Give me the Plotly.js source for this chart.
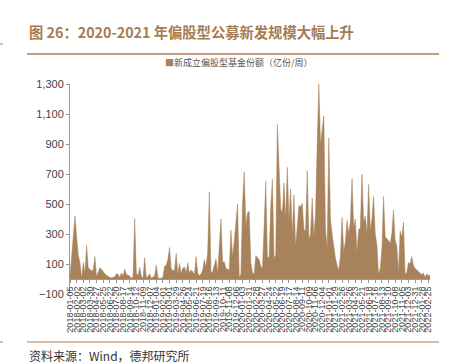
<!DOCTYPE html>
<html>
<head>
<meta charset="utf-8">
<script src="https://cdn.plot.ly/plotly-3.0.1.min.js"></script>
<style>html,body{margin:0;padding:0;background:#fff;}#chart{width:449px;height:363px;}</style>
</head>
<body>
<div id="chart"></div>
<script>
// Weekly new equity-biased fund shares (亿份/周), one value per week from 2018-01-05
const startDate = '2018-01-05';
const seriesName = '新成立偏股型基金份额（亿份/周）';
const weeklyShares = [
  20,150,330,420,280,160,110,5,110,40,
  225,75,65,55,60,150,15,40,75,65,
  45,35,25,15,10,8,10,15,35,30,
  10,40,20,65,30,25,20,5,15,405,
  40,20,78,15,5,142,10,15,35,5,
  10,20,93,10,3,5,10,85,90,130,
  210,65,60,55,170,30,104,35,71,80,
  40,109,35,60,50,25,149,40,20,35,
  60,130,80,180,582,40,50,90,133,40,
  200,400,110,115,70,65,60,327,150,250,
  400,500,15,30,500,715,350,442,450,110,
  40,35,155,145,130,85,70,350,650,150,
  140,480,665,140,160,1030,680,470,440,640,
  400,745,390,600,300,560,215,330,490,480,
  505,330,320,725,270,300,540,280,430,900,
  1300,900,1000,1090,330,200,940,400,300,200,
  140,90,60,150,410,180,250,390,300,380,
  670,340,400,180,330,340,700,380,420,300,
  630,330,400,550,300,230,30,70,200,550,
  280,270,250,240,300,460,260,220,50,320,
  280,380,30,45,110,100,150,90,70,60,
  50,45,30,40,10,35,20,30
];
const yTickVals = [-100,100,300,500,700,900,1100,1300];
const titleText = '图 26：2020-2021 年偏股型公募新发规模大幅上升';
const sourceText = '资料来源：Wind，德邦研究所';

// weekly category labels
const weeks = [];
(function(){
  const d0 = new Date(startDate + 'T00:00:00Z');
  for (let i = 0; i < weeklyShares.length; i++) {
    const d = new Date(d0.getTime() + i * 7 * 86400000);
    weeks.push(d.toISOString().slice(0,10));
  }
})();
const tickLabels = weeks.filter((w,i) => i % 4 === 0);

const fillColor = '#a8825a';
const brown = '#a57b52';

const trace = {
  x: weeks, y: weeklyShares, type: 'scatter', mode: 'lines',
  fill: 'tozeroy', fillcolor: fillColor,
  line: {color: fillColor, width: 0.5},
  name: seriesName, showlegend: false, hoverinfo: 'skip'
};

// plot area pixels: x 70..430, y 84..294
const L = 70, R = 430, T = 84, B = 294;
const px = v => (v - L) / (R - L);
const py = v => (B - v) / (B - T);

const layout = {
  width: 449, height: 363,
  margin: {l: L, r: 449 - R, t: T, b: 363 - B, pad: 0},
  paper_bgcolor: '#ffffff', plot_bgcolor: '#ffffff',
  font: {family: 'Liberation Sans, Arial, sans-serif', color: '#333'},
  title: {
    text: titleText, xref: 'container', yref: 'container',
    x: 29/449, xanchor: 'left', y: 1 - 33/363, yanchor: 'middle',
    font: {family: 'Noto Sans CJK SC, sans-serif', size: 14.3, color: brown, weight: 'bold'}
  },
  xaxis: {
    type: 'category', range: [0, weeklyShares.length - 1],
    anchor: 'free', position: 100/1400,
    showline: true, linecolor: '#9a9a9a', linewidth: 1,
    ticks: 'outside', ticklen: 3, tickcolor: '#9a9a9a', tickwidth: 1,
    tickmode: 'array', tickvals: tickLabels, ticktext: tickLabels,
    tickangle: -90, tickfont: {size: 9, color: '#444', family: 'Liberation Sans, Arial, sans-serif'},
    showgrid: false, zeroline: false, automargin: false, fixedrange: true
  },
  yaxis: {
    range: [-100, 1300], tickmode: 'array', tickvals: yTickVals,
    tickformat: ',d',
    showline: true, linecolor: '#9a9a9a', linewidth: 1,
    ticks: 'outside', ticklen: 3, tickcolor: '#9a9a9a',
    tickfont: {size: 11, color: '#444'},
    showgrid: false, zeroline: false, automargin: false, fixedrange: true
  },
  separators: '.,',
  shapes: [
    {type: 'line', xref: 'paper', yref: 'paper', x0: px(27), x1: px(439), y0: py(54), y1: py(54),
     line: {color: '#b07c52', width: 1.5}},
    {type: 'line', xref: 'paper', yref: 'paper', x0: px(27), x1: px(439), y0: py(342), y1: py(342),
     line: {color: '#b07c52', width: 1.2}},
    {type: 'line', xref: 'paper', yref: 'paper', x0: px(0), x1: px(3), y0: py(44), y1: py(44),
     line: {color: '#888', width: 1}},
    {type: 'line', xref: 'paper', yref: 'paper', x0: px(0), x1: px(3), y0: py(342), y1: py(342),
     line: {color: '#b07c52', width: 1}}
  ],
  annotations: [
    {text: '<span style="color:' + fillColor + '">■</span>' + seriesName,
     xref: 'paper', yref: 'paper', x: px(239), y: py(63), xanchor: 'center', yanchor: 'middle',
     showarrow: false, font: {family: 'Noto Sans CJK SC, sans-serif', size: 9, color: '#555'}},
    {text: sourceText, xref: 'paper', yref: 'paper', x: px(27), y: py(355), xanchor: 'left', yanchor: 'middle',
     showarrow: false, font: {family: 'Noto Sans CJK SC, sans-serif', size: 12, color: '#333'}}
  ]
};

Plotly.newPlot('chart', [trace], layout, {displayModeBar: false, staticPlot: true});
</script>
</body>
</html>
